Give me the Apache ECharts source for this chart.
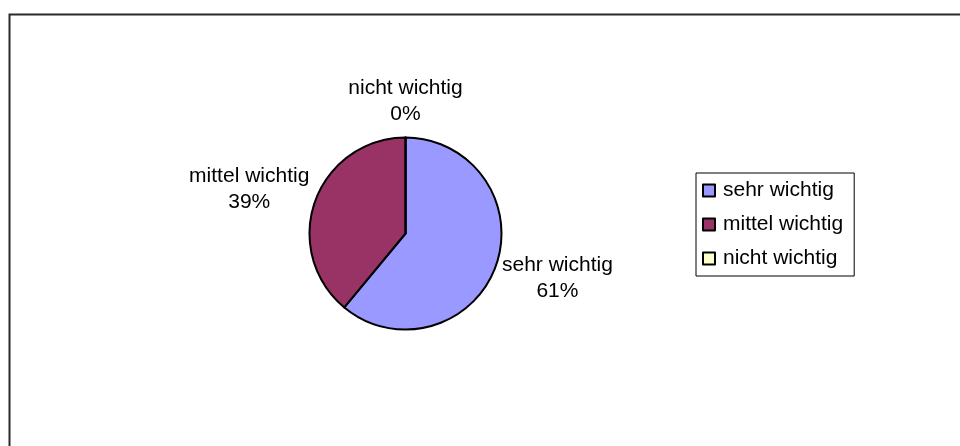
<!DOCTYPE html>
<html>
<head>
<meta charset="utf-8">
<script src="https://cdn.jsdelivr.net/npm/echarts@6/dist/echarts.min.js"></script>
<style>
html, body { margin: 0; padding: 0; background: #fff; }
#chart { width: 960px; height: 446px; }
</style>
</head>
<body>
<div id="chart"></div>
<script>
const categories = ['sehr wichtig', 'mittel wichtig', 'nicht wichtig'];
const shares = [61, 39, 0];
const sliceColors = ['#9999FF', '#993366', '#FFFFCC'];

const FONT = '"Liberation Sans", Arial, sans-serif';
const LABEL_GAP = 10;

const chart = echarts.init(document.getElementById('chart'), null, { renderer: 'canvas' });

const pieData = categories.map(function (name, i) {
  return { name: name, value: shares[i], itemStyle: { color: sliceColors[i] } };
});

const option = {
  animation: false,
  backgroundColor: '#ffffff',
  graphic: [{
    type: 'rect',
    left: 7, top: 12,
    shape: { width: 1000, height: 500 },
    style: { fill: 'none', stroke: '#2a2a2a', lineWidth: 2 },
    silent: true
  }],
  legend: {
    orient: 'vertical',
    left: 696,
    top: 173,
    padding: [6, 11, 6, 6],
    itemGap: 11,
    itemWidth: 12,
    itemHeight: 12,
    icon: 'rect',
    borderColor: '#000',
    borderWidth: 1,
    selectedMode: false,
    itemStyle: { borderColor: '#000', borderWidth: 2 },
    textStyle: { fontFamily: FONT, fontSize: 21, color: '#000', lineHeight: 23, padding: [0, 0, 0, 3] },
    data: categories
  },
  series: [{
    type: 'pie',
    center: [405.5, 233.5],
    radius: 96,
    startAngle: 90,
    clockwise: true,
    avoidLabelOverlap: false,
    percentPrecision: 0,
    emphasis: { disabled: true },
    itemStyle: { borderColor: '#000', borderWidth: 2 },
    label: {
      show: true,
      position: 'outside',
      formatter: '{b}\n{d}%',
      fontFamily: FONT,
      fontSize: 21,
      lineHeight: 26,
      color: '#000'
    },
    labelLine: {
      show: true,
      length: 6,
      length2: 4,
      lineStyle: { opacity: 0, width: 0 }
    },
    labelLayout: function (p) {
      const pts = p.labelLinePoints;
      if (!pts || pts.length < 2) return {};
      let dx = pts[1][0] - pts[0][0];
      let dy = pts[1][1] - pts[0][1];
      const len = Math.sqrt(dx * dx + dy * dy) || 1;
      dx /= len; dy /= len;
      const hw = p.labelRect.width / 2;
      const hh = p.labelRect.height / 2;
      return {
        x: pts[0][0] + dx * (LABEL_GAP + hw),
        y: pts[0][1] + dy * (LABEL_GAP + hh),
        align: 'center',
        verticalAlign: 'middle'
      };
    },
    data: pieData
  }]
};

chart.setOption(option);
</script>
</body>
</html>
